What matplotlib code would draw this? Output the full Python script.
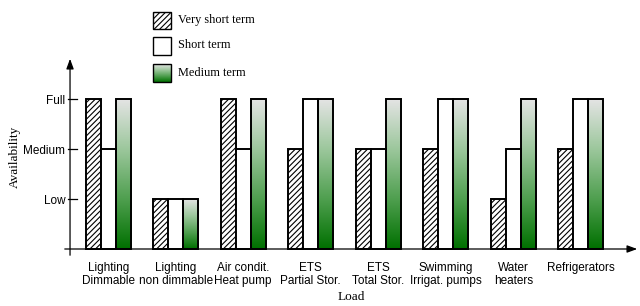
import numpy as np
import matplotlib
matplotlib.use("Agg")
import matplotlib.pyplot as plt
from matplotlib.colors import LinearSegmentedColormap
from matplotlib.patches import Rectangle

# data
loads = ["Lighting\nDimmable", "Lighting\nnon dimmable", "Air condit.\nHeat pump",
         "ETS\nPartial Stor.", "ETS\nTotal Stor.", "Swimming\nIrrigat. pumps",
         "Water\nheaters", "Refrigerators"]
very_short = [3, 1, 3, 2, 2, 2, 1, 2]
short = [2, 1, 2, 3, 2, 3, 2, 3]
medium = [3, 1, 3, 3, 3, 3, 3, 3]
levels = [1, 2, 3]
level_labels = ["Low", "Medium", "Full"]
series_names = ["Very short term", "Short term", "Medium term"]

SERIF = ["Liberation Serif", "DejaVu Serif"]
SANS = ["Liberation Sans", "DejaVu Sans"]
plt.rcParams["hatch.color"] = "#555555"
plt.rcParams["hatch.linewidth"] = 0.8

green = LinearSegmentedColormap.from_list("g", ["#e4e4e4", "#9cc79c", "#4f9f4f", "#007000"])
grad = np.linspace(0, 1, 256).reshape(-1, 1)


def gradient_bar(ax, patch):
    x, y = patch.get_x(), patch.get_y()
    w, h = patch.get_width(), patch.get_height()
    im = ax.imshow(grad, cmap=green, aspect="auto", extent=(x, x + w, y, y + h),
                   origin="upper", zorder=patch.get_zorder() - 0.1)
    im.set_clip_path(patch)


fig = plt.figure(figsize=(6.4, 3.06), dpi=100)
W, H = 640, 306
ax = fig.add_axes([62 / W, 1 - 258 / H, (640 - 62) / W, (258 - 56) / H])

px = 67.3  # pixels per group
x0 = (62 - 108) / px
x1 = (638 - 108) / px
y0 = -9 / 50
y1 = (249 - 56) / 50

x = np.arange(len(loads))
bw = 15 / px
ax.bar(x - bw, very_short, bw, color="white", edgecolor="black", hatch="//////",
       linewidth=1.4, zorder=3)
ax.bar(x, short, bw, color="white", edgecolor="black", linewidth=1.4, zorder=3)
mbars = ax.bar(x + bw, medium, bw, color="none", edgecolor="black", linewidth=1.4, zorder=3)
for p in mbars:
    gradient_bar(ax, p)
ax.set_xlim(x0, x1)
ax.set_ylim(y0, y1)

for s in ax.spines.values():
    s.set_visible(False)
# axes with arrows
ax.annotate("", xy=(x1, 0), xytext=(x0, 0),
            arrowprops=dict(arrowstyle="-|>,head_length=0.6,head_width=0.22", color="black", lw=0.9))
xa = (70 - 108) / px
ax.annotate("", xy=(xa, y1), xytext=(xa, y0),
            arrowprops=dict(arrowstyle="-|>,head_length=0.6,head_width=0.22", color="black", lw=0.9))

for lv in levels:
    ax.plot([xa - 2 / px, xa + 7 / px], [lv, lv], color="black", lw=0.9, clip_on=False)
ax.set_yticks(levels)
ax.set_yticklabels(level_labels, fontfamily=SANS, fontsize=8.5)
ax.tick_params(axis="y", length=0, pad=-2.5)
ax.set_xticks(x)
ax.set_xticklabels(loads, fontfamily=SANS, fontsize=8.5, linespacing=1.05)
ax.tick_params(axis="x", length=0, pad=3)

ax.set_ylabel("Availability", fontfamily=SERIF, fontsize=9.5, labelpad=2)
ax.set_xlabel("Load", fontfamily=SERIF, fontsize=9.5, labelpad=3)

# legend drawn in pixel coordinates on an overlay
lg = fig.add_axes([0, 0, 1, 1], zorder=5)
lg.axis("off")
lg.patch.set_alpha(0)
tops = [12, 37, 64]
for i, (t, name) in enumerate(zip(tops, series_names)):
    if i == 0:
        r = Rectangle((153, t), 18, 17, facecolor="white", edgecolor="black",
                      hatch="//////", lw=1.0)
        lg.add_patch(r)
    elif i == 1:
        r = Rectangle((153, t), 18, 18, facecolor="white", edgecolor="black", lw=1.0)
        lg.add_patch(r)
    else:
        r = Rectangle((153, t), 18, 18, facecolor="none", edgecolor="black", lw=1.0)
        lg.add_patch(r)
        im = lg.imshow(grad, cmap=green, aspect="auto", extent=(153, 171, t + 18, t),
                       origin="upper", zorder=r.get_zorder() - 0.1)
        im.set_clip_path(r)
    lg.text(178, t + 8.5, name, fontfamily=SERIF, fontsize=8.8, va="center", ha="left")
lg.set_xlim(0, W)
lg.set_ylim(H, 0)

fig.savefig("out.png", dpi=100)
